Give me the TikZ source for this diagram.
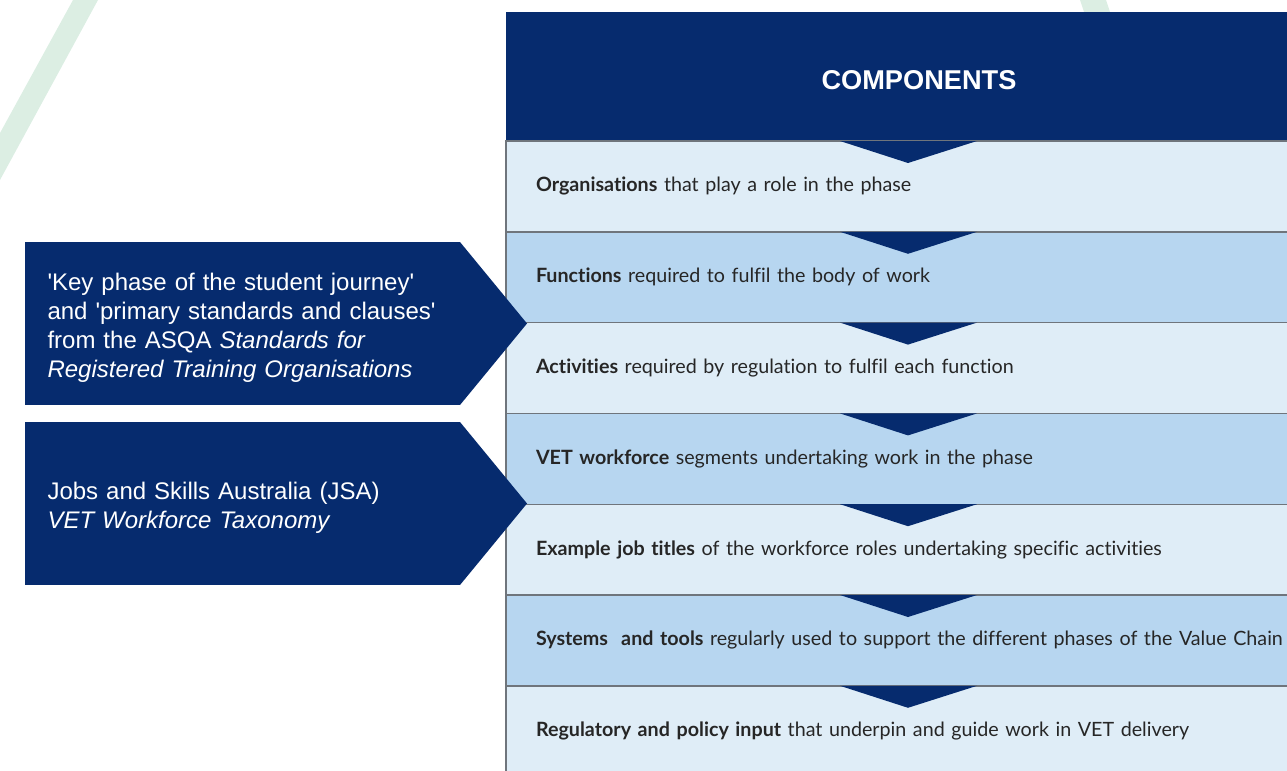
\documentclass[tikz,border=0pt]{standalone}
\usepackage{fontspec}
\usetikzlibrary{positioning}
\newfontfamily\rowfont[Ligatures=NoCommon]{Lato}
\newfontfamily\boxfont{Liberation Sans}
\definecolor{vetnavy}{HTML}{062B6E}
\definecolor{rowlight}{HTML}{DFEDF7}
\definecolor{rowmid}{HTML}{B7D6F0}
\definecolor{rowline}{HTML}{6F757C}
\definecolor{rowtext}{HTML}{262626}
\definecolor{greenband}{HTML}{DCEEE3}

\begin{document}
\begin{tikzpicture}[x=0.5pt,y=-0.5pt,node distance=45.4pt,
        headbox/.style={fill=vetnavy,text=white,font=\boxfont\bfseries\fontsize{13.6}{16}\selectfont,
            minimum width=413pt,minimum height=64.5pt,text height=13.2pt,inner sep=0pt,outer sep=0pt},
        rowbox/.style={draw=rowline,line width=0.7pt,text=rowtext,font=\rowfont\fontsize{9.85}{11}\selectfont,
            minimum height=45.4pt,text width=387pt,inner xsep=15pt,inner ysep=0pt,outer sep=0pt,align=left},
        lightrow/.style={rowbox,fill=rowlight},
        midrow/.style={rowbox,fill=rowmid},
        srcbox/.style={fill=vetnavy,text=white,font=\boxfont\fontsize{12}{14.5}\selectfont,
            minimum width=217.5pt,minimum height=81.5pt,text width=195pt,inner xsep=11.25pt,
            outer sep=0pt,align=left}]
    \useasboundingbox (0,0) rectangle (1287,771);
    % background stripes
    \fill[greenband] (73,0) -- (98,0) -- (0,180) -- (0,133) -- cycle;
    \fill[greenband] (1080,0) -- (1106,0) -- (1116,30) -- (1090,30) -- cycle;
    \node [headbox]  (head) at (919,76.5) {COMPONENTS};
    \node [lightrow] (r1) at (923,186.4) {\textbf{Organisations} that play a role in the phase};
    \node [midrow]   (r2) [below of=r1] {\textbf{Functions} required to fulfil the body of work};
    \node [lightrow] (r3) [below of=r2] {\textbf{Activities} required by regulation to fulfil each function};
    \node [midrow]   (r4) [below of=r3] {\textbf{VET workforce} segments undertaking work in the phase};
    \node [lightrow] (r5) [below of=r4] {\textbf{Example job titles} of the workforce roles undertaking specific activities};
    \node [midrow]   (r6) [below of=r5] {\textbf{Systems\ \ and tools} regularly used to support the different phases of the Value Chain};
    \node [lightrow] (r7) [below of=r6] {\textbf{Regulatory and policy input} that underpin and guide work in VET delivery};
    % chevrons
    \foreach \r in {r1,r2,r3,r4,r5,r6,r7}
        \fill[vetnavy] ([xshift=167pt]\r.north west) -- ++(137,0) -- ++(-69,22) -- cycle;
    % sources
    \node [srcbox] (asqa) at (242.5,323.5)
        {\rule{0pt}{12.7pt}\textquotesingle Key phase of the student journey\textquotesingle\\
         and \textquotesingle primary standards and clauses\textquotesingle\\
         from the ASQA \textit{Standards for}\\
         \textit{Registered Training Organisations}};
    \node [srcbox] (jsa) [below of=asqa,node distance=90pt]
        {\rule{0pt}{12.7pt}Jobs and Skills Australia (JSA)\\ \textit{VET Workforce Taxonomy}};
    \fill[vetnavy] (asqa.north east) -- ++(67,81.5) -- (asqa.south east) -- cycle;
    \fill[vetnavy] (jsa.north east) -- ++(67,81.5) -- (jsa.south east) -- cycle;
\end{tikzpicture}
\end{document}
